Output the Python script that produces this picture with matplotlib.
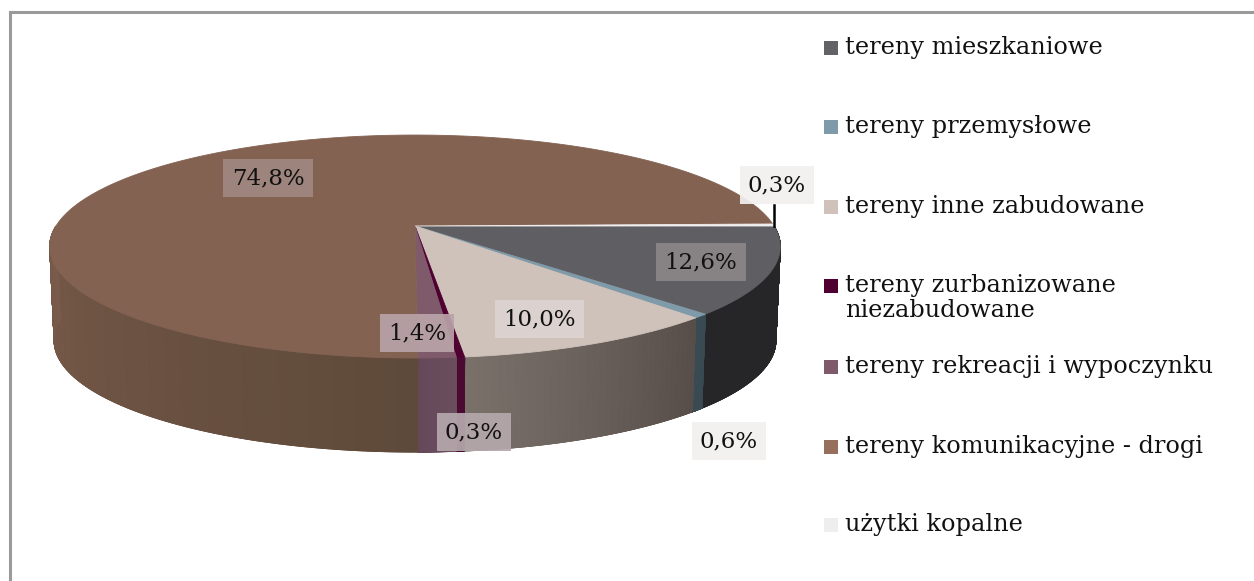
import numpy as np
import matplotlib
matplotlib.use("Agg")
import matplotlib.pyplot as plt
from matplotlib.colors import LinearSegmentedColormap, to_rgb
from matplotlib.patches import Rectangle

categories = ["tereny mieszkaniowe", "tereny przemysłowe", "tereny inne zabudowane",
              "tereny zurbanizowane\nniezabudowane", "tereny rekreacji i wypoczynku",
              "tereny komunikacyjne - drogi", "użytki kopalne"]
values = [12.6, 0.6, 10.0, 0.3, 1.4, 74.8, 0.3]
value_labels = ["12,6%", "0,6%", "10,0%", "0,3%", "1,4%", "74,8%", "0,3%"]

top_colors = ["#5f5f63", "#7f9aa8", "#cfc2ba", "#4f0030", "#7f5a6b", "#836252", "#f0eeee"]
legend_colors = ["#636266", "#7f9aa8", "#cfc2ba", "#4f0030", "#7f5a6b", "#96705c", "#eeeeee"]
# wall colours, from the right end of the slice to the left end
wall_colors = [("#262628", "#262628"), ("#3a4a52", "#3a4a52"), ("#574e49", "#7a716b"),
               ("#4a0a32", "#4a0a32"), ("#6b4e5c", "#65485a"), ("#5e4a3a", "#7a5b4b"),
               ("#d8d6d6", "#d8d6d6")]

label_pos = [(701, 262), (729, 441), (539, 319), (474, 432), (417, 333), (268, 178), (777, 185)]
label_face = ["#8b8688", "#f3efef", "#ddd3d0", "#b5a8ac", "#b9a3a8", "#a08880", "#f3efef"]
legend_y = [48, 127, 207, 286, 367, 447, 525]

# pie geometry in image pixels, the front is nearer so it opens wider than the back
cx, cy = 415, 226
radius = 359
persp = 0.184
ry = 107.7
depth = 94


def top_edge(a):
    s = np.sin(a)
    return cx + radius * np.cos(a) / (1 - persp * s), cy + ry * s / (1 - persp * s)


def bottom_edge(a):
    x, y = top_edge(a)
    return cx + (x - cx) * 0.988, y + depth


plt.rcParams["font.family"] = ["DejaVu Serif"]
fig = plt.figure(figsize=(12.54, 5.81), dpi=100)
ax = fig.add_axes([0, 0, 1, 1])
ax.set_xlim(0, 1254)
ax.set_ylim(581, 0)
ax.axis("off")

# only the top and left border lines are in the picture
ax.plot([10, 10, 1254], [581, 12, 12], color="#9a9a9a", lw=2.2, solid_joinstyle="miter")

edges = np.radians(np.cumsum([0] + values) * 3.6)

# walls first, only the front half shows
for i in range(len(values)):
    a0, a1 = edges[i], min(edges[i + 1], np.pi)
    if a0 >= np.pi:
        continue
    a = np.linspace(a0, a1, 400)
    xt, yt = top_edge(a)
    xb, yb = bottom_edge(a)
    # mesh edges are not antialiased, a plain polygon underneath softens the outline
    mid = np.mean([to_rgb(c) for c in wall_colors[i]], axis=0)
    ax.fill(np.r_[xt, xb[::-1]], np.r_[yt, yb[::-1]], color=mid, lw=0.8)
    cmap = LinearSegmentedColormap.from_list("wall", wall_colors[i])
    ax.pcolormesh(np.array([xt, xb]), np.array([yt, yb]),
                  np.array([a, a]), shading="gouraud", cmap=cmap)

for i in range(len(values)):
    a = np.linspace(edges[i], edges[i + 1], 200)
    x, y = top_edge(a)
    ax.fill(np.r_[cx, x], np.r_[cy, y], color=top_colors[i], lw=0.6)

ax.plot([774, 774], [205, 226], color="black", lw=1.8)

for i in range(len(values)):
    ax.text(label_pos[i][0], label_pos[i][1], value_labels[i], fontsize=16.5, color="#111111",
            ha="center", va="center",
            bbox=dict(boxstyle="square,pad=0.36", fc=label_face[i], ec="none", alpha=0.92))

for i in range(len(categories)):
    ax.add_patch(Rectangle((824, legend_y[i] - 7), 14, 14, fc=legend_colors[i], ec="none"))
    ax.text(845, legend_y[i] - 12, categories[i], fontsize=17.3, color="#111111",
            ha="left", va="top", linespacing=1.12)

fig.savefig("out.png", dpi=100)
